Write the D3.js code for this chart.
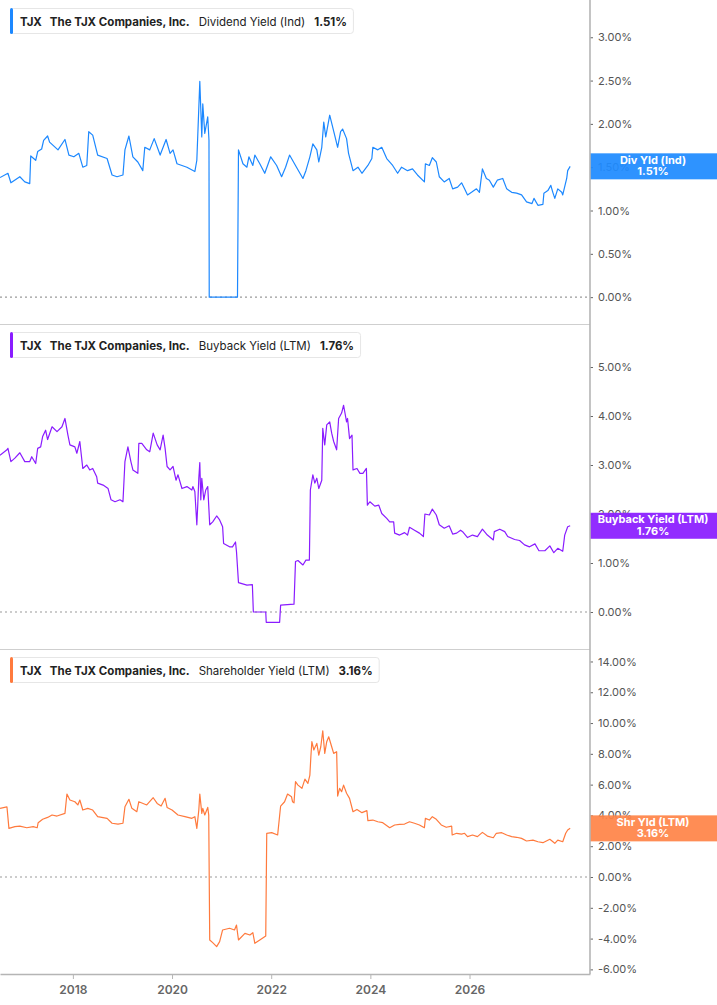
<!DOCTYPE html>
<html><head><meta charset="utf-8">
<script src="https://cdn.jsdelivr.net/npm/d3@7"></script>
<style>
body{margin:0;background:#fff;}
svg{display:block;font-family:Inter,"Noto Sans",sans-serif;}
</style>
</head><body>
<svg id="chart" width="717" height="1005"></svg>
<script>
const ticker = "TJX";
const company = "The TJX Companies, Inc.";
const xTickYears = [2018, 2020, 2022, 2024, 2026];
const xDomain = [2016.53, 2028.43];

const divTicks = [0, 0.5, 1, 1.5, 2, 2.5, 3];
const buyTicks = [0, 1, 2, 3, 4, 5];
const shrTicks = [-6, -4, -2, 0, 2, 4, 6, 8, 10, 12, 14];

// [decimal year, %]
const divYield = [
[2016.53,1.38],[2016.69,1.43],[2016.75,1.32],[2016.93,1.39],[2017.03,1.33],[2017.13,1.31],[2017.15,1.63],
[2017.25,1.58],[2017.29,1.68],[2017.37,1.71],[2017.41,1.81],[2017.49,1.86],[2017.53,1.79],[2017.70,1.70],
[2017.84,1.82],[2017.92,1.64],[2018.02,1.62],[2018.12,1.66],[2018.20,1.50],[2018.28,1.52],[2018.32,1.91],
[2018.40,1.87],[2018.50,1.64],[2018.69,1.60],[2018.79,1.41],[2018.89,1.39],[2019.01,1.41],[2019.05,1.70],
[2019.13,1.86],[2019.21,1.62],[2019.31,1.56],[2019.41,1.46],[2019.45,1.73],[2019.55,1.70],[2019.64,1.83],
[2019.76,1.64],[2019.88,1.82],[2019.96,1.66],[2020.02,1.70],[2020.10,1.54],[2020.30,1.50],[2020.46,1.45],
[2020.50,1.58],[2020.56,2.49],[2020.60,1.85],[2020.62,2.23],[2020.66,1.89],[2020.72,2.08],[2020.745,1.81],
[2020.75,0],[2021.32,0],[2021.34,1.70],[2021.43,1.54],[2021.51,1.50],[2021.55,1.62],[2021.63,1.52],
[2021.67,1.64],[2021.77,1.54],[2021.87,1.43],[2021.99,1.62],[2022.11,1.52],[2022.21,1.39],[2022.29,1.50],
[2022.37,1.64],[2022.51,1.50],[2022.64,1.37],[2022.70,1.46],[2022.78,1.62],[2022.84,1.77],[2022.92,1.70],
[2022.96,1.56],[2023.02,1.73],[2023.06,2.02],[2023.10,1.85],[2023.18,2.10],[2023.28,1.87],[2023.34,1.73],
[2023.40,1.91],[2023.44,1.94],[2023.52,1.83],[2023.56,1.66],[2023.65,1.46],[2023.75,1.50],[2023.83,1.43],
[2023.95,1.52],[2024.03,1.60],[2024.05,1.73],[2024.15,1.70],[2024.23,1.73],[2024.33,1.60],[2024.45,1.52],
[2024.55,1.43],[2024.63,1.50],[2024.75,1.46],[2024.85,1.48],[2024.95,1.41],[2025.09,1.33],[2025.11,1.54],
[2025.19,1.52],[2025.25,1.61],[2025.33,1.56],[2025.39,1.39],[2025.49,1.33],[2025.59,1.37],[2025.66,1.25],
[2025.76,1.27],[2025.84,1.32],[2025.90,1.25],[2025.96,1.18],[2026.04,1.21],[2026.14,1.25],[2026.20,1.21],
[2026.26,1.48],[2026.34,1.37],[2026.40,1.35],[2026.48,1.27],[2026.56,1.35],[2026.67,1.37],[2026.75,1.25],
[2026.85,1.21],[2026.95,1.20],[2027.05,1.18],[2027.15,1.10],[2027.26,1.08],[2027.30,1.14],[2027.38,1.06],
[2027.48,1.07],[2027.50,1.20],[2027.58,1.23],[2027.64,1.29],[2027.68,1.21],[2027.72,1.14],[2027.78,1.25],
[2027.86,1.21],[2027.88,1.18],[2027.96,1.37],[2027.98,1.46],[2028.03,1.51]
];

const buybackYield = [
[2016.53,3.20],[2016.67,3.31],[2016.69,3.34],[2016.75,3.07],[2016.83,3.14],[2016.93,3.25],[2017.03,3.07],
[2017.13,3.07],[2017.17,3.17],[2017.25,3.03],[2017.29,3.34],[2017.35,3.37],[2017.39,3.58],[2017.45,3.71],
[2017.49,3.52],[2017.58,3.78],[2017.68,3.68],[2017.78,3.78],[2017.84,3.95],[2017.90,3.61],[2017.94,3.41],
[2018.04,3.37],[2018.08,3.24],[2018.14,3.48],[2018.20,2.93],[2018.28,3.00],[2018.34,2.90],[2018.40,2.93],
[2018.48,2.76],[2018.50,2.63],[2018.61,2.59],[2018.71,2.52],[2018.77,2.29],[2018.85,2.25],[2018.95,2.29],
[2019.01,2.25],[2019.05,3.07],[2019.11,3.37],[2019.17,3.07],[2019.21,2.90],[2019.31,2.83],[2019.33,3.44],
[2019.39,3.44],[2019.49,3.31],[2019.55,3.27],[2019.62,3.65],[2019.70,3.41],[2019.76,3.31],[2019.82,3.61],
[2019.86,3.34],[2019.90,2.97],[2019.96,2.90],[2020.02,2.97],[2020.08,2.69],[2020.12,2.80],[2020.20,2.52],
[2020.30,2.56],[2020.40,2.49],[2020.42,2.56],[2020.46,2.46],[2020.50,1.78],[2020.52,2.22],[2020.54,2.73],
[2020.56,3.05],[2020.58,2.29],[2020.60,2.73],[2020.64,2.29],[2020.68,2.49],[2020.72,2.56],[2020.76,1.78],
[2020.82,1.84],[2020.90,1.96],[2020.96,1.88],[2021.02,1.74],[2021.04,1.40],[2021.16,1.33],[2021.22,1.33],
[2021.28,1.43],[2021.30,1.23],[2021.34,0.60],[2021.51,0.55],[2021.62,0.56],[2021.64,0.00],[2021.89,0.00],
[2021.90,-0.21],[2022.17,-0.21],[2022.19,0.14],[2022.46,0.16],[2022.49,1.03],[2022.54,1.05],[2022.64,0.96],
[2022.70,1.06],[2022.77,1.06],[2022.79,2.49],[2022.84,2.80],[2022.88,2.63],[2022.92,2.73],[2022.96,2.52],
[2023.02,2.69],[2023.04,3.75],[2023.08,3.41],[2023.12,3.82],[2023.18,3.88],[2023.22,3.65],[2023.26,3.48],
[2023.32,3.31],[2023.36,3.95],[2023.42,4.06],[2023.46,4.22],[2023.52,3.88],[2023.54,3.95],[2023.58,3.54],
[2023.63,3.61],[2023.65,2.90],[2023.73,2.93],[2023.79,2.83],[2023.85,2.83],[2023.92,2.93],[2023.94,2.18],
[2023.99,2.25],[2024.09,2.16],[2024.17,2.18],[2024.23,2.01],[2024.33,1.91],[2024.39,1.84],[2024.47,1.84],
[2024.49,1.61],[2024.59,1.57],[2024.69,1.62],[2024.75,1.57],[2024.79,1.73],[2024.89,1.67],[2024.99,1.61],
[2025.07,1.54],[2025.10,2.00],[2025.19,1.98],[2025.25,2.10],[2025.33,1.98],[2025.39,1.78],[2025.49,1.71],
[2025.59,1.76],[2025.66,1.59],[2025.74,1.61],[2025.82,1.67],[2025.86,1.64],[2025.96,1.52],[2026.06,1.57],
[2026.16,1.54],[2026.26,1.69],[2026.36,1.57],[2026.48,1.47],[2026.50,1.64],[2026.61,1.69],[2026.71,1.64],
[2026.77,1.54],[2026.91,1.48],[2027.01,1.46],[2027.11,1.37],[2027.21,1.33],[2027.32,1.39],[2027.40,1.25],
[2027.52,1.25],[2027.62,1.35],[2027.70,1.21],[2027.78,1.30],[2027.88,1.24],[2027.92,1.57],[2027.98,1.74],
[2028.03,1.76]
];

const shareholderYield = [
[2016.53,4.46],[2016.67,4.56],[2016.71,3.16],[2016.83,3.27],[2016.93,3.31],[2017.07,3.20],[2017.20,3.27],
[2017.28,3.20],[2017.30,3.53],[2017.39,3.75],[2017.49,3.87],[2017.58,4.03],[2017.68,3.96],[2017.84,4.13],
[2017.88,5.39],[2017.94,5.00],[2018.04,4.89],[2018.10,4.68],[2018.14,5.00],[2018.20,4.35],[2018.30,4.46],
[2018.40,4.35],[2018.50,3.92],[2018.69,3.81],[2018.79,3.49],[2018.91,3.44],[2019.01,3.49],[2019.05,4.56],
[2019.13,5.05],[2019.19,4.46],[2019.29,4.24],[2019.33,4.89],[2019.49,4.68],[2019.62,5.15],[2019.70,4.78],
[2019.78,4.61],[2019.86,5.11],[2019.90,4.52],[2020.00,4.35],[2020.12,4.03],[2020.26,3.92],[2020.40,3.81],
[2020.46,3.92],[2020.50,3.16],[2020.54,4.35],[2020.56,5.39],[2020.60,4.13],[2020.62,4.46],[2020.66,4.03],
[2020.72,4.52],[2020.74,4.03],[2020.76,-4.09],[2020.82,-4.26],[2020.90,-4.52],[2020.96,-4.20],[2021.02,-3.44],
[2021.16,-3.33],[2021.26,-3.44],[2021.30,-3.12],[2021.34,-4.09],[2021.47,-3.66],[2021.57,-3.77],[2021.63,-3.62],
[2021.67,-4.31],[2021.77,-4.09],[2021.89,-3.83],[2021.91,2.84],[2022.01,2.88],[2022.13,2.73],[2022.19,4.61],
[2022.27,4.89],[2022.33,5.39],[2022.41,5.21],[2022.43,4.89],[2022.46,4.82],[2022.49,6.19],[2022.54,5.97],
[2022.62,5.76],[2022.68,6.36],[2022.74,6.08],[2022.78,6.62],[2022.80,7.81],[2022.82,8.79],[2022.86,8.25],
[2022.92,8.68],[2022.96,7.92],[2023.00,8.46],[2023.04,9.50],[2023.08,8.03],[2023.12,8.79],[2023.16,9.11],
[2023.22,8.46],[2023.26,8.03],[2023.32,8.14],[2023.34,5.26],[2023.38,5.76],[2023.42,5.54],[2023.46,5.97],
[2023.52,5.44],[2023.58,5.11],[2023.65,4.24],[2023.73,4.39],[2023.83,4.18],[2023.93,4.31],[2023.95,3.66],
[2024.05,3.70],[2024.15,3.59],[2024.25,3.53],[2024.39,3.20],[2024.49,3.38],[2024.59,3.42],[2024.69,3.44],
[2024.79,3.59],[2024.89,3.49],[2024.99,3.38],[2025.09,3.20],[2025.11,3.81],[2025.19,3.70],[2025.25,3.92],
[2025.33,3.75],[2025.43,3.38],[2025.53,3.23],[2025.64,3.31],[2025.65,2.73],[2025.74,2.84],[2025.84,2.79],
[2025.90,2.84],[2025.96,2.62],[2026.06,2.73],[2026.16,2.62],[2026.26,2.90],[2026.36,2.66],[2026.48,2.55],
[2026.54,2.84],[2026.65,2.88],[2026.75,2.73],[2026.85,2.62],[2026.95,2.58],[2027.05,2.51],[2027.15,2.34],
[2027.28,2.40],[2027.38,2.29],[2027.48,2.23],[2027.62,2.45],[2027.72,2.19],[2027.78,2.40],[2027.88,2.29],
[2027.94,2.84],[2027.98,3.05],[2028.03,3.16]
];

const seriesNames = ["Dividend Yield (Ind)", "Buyback Yield (LTM)", "Shareholder Yield (LTM)"];
const badgeNames = ["Div Yld (Ind)", "Buyback Yield (LTM)", "Shr Yld (LTM)"];
const lastValues = [1.51, 1.76, 3.16];
const lineColors = ["#1c88ff", "#8a1cff", "#ff7a3d"];
const badgeColors = ["#1e8bff", "#8a1cff", "#ff8448"];

// layout
const W = 717, plotRight = 590;
const panelTops = [0, 324, 649];
const panelBottoms = [324, 649, 974];
const yDomains = [[-0.31, 3.43], [-0.755, 5.878], [-6.30, 14.81]];
const tickSets = [divTicks, buyTicks, shrTicks];
const dataSets = [divYield, buybackYield, shareholderYield];

const svg = d3.select("#chart");
const x = d3.scaleLinear().domain(xDomain).range([0, plotRight]);

const defs = svg.append("defs");

panelTops.forEach((top, i) => {
  const bottom = panelBottoms[i];
  const y = d3.scaleLinear().domain(yDomains[i]).range([bottom, top]);
  const g = svg.append("g");

  defs.append("clipPath").attr("id", "clip" + i)
    .append("rect").attr("x", 0).attr("y", top).attr("width", plotRight).attr("height", bottom - top);

  // zero line
  g.append("line")
    .attr("x1", 0).attr("x2", plotRight)
    .attr("y1", y(0)).attr("y2", y(0))
    .attr("stroke", "#9a9a9a").attr("stroke-width", 1.2)
    .attr("stroke-dasharray", "2,3");

  // series line
  const line = d3.line().x(d => x(d[0])).y(d => y(d[1]));
  g.append("path")
    .datum(dataSets[i])
    .attr("clip-path", `url(#clip${i})`)
    .attr("fill", "none")
    .attr("stroke", lineColors[i])
    .attr("stroke-width", 1.2)
    .attr("stroke-linejoin", "round")
    .attr("d", line);

  // y axis
  const ax = d3.axisRight(y).tickValues(tickSets[i]).tickSize(3).tickPadding(5)
    .tickFormat(d => d.toFixed(2) + "%");
  const axG = g.append("g").attr("transform", `translate(${plotRight},0)`).call(ax);
  axG.select(".domain").remove();
  axG.selectAll(".tick line").attr("stroke", "#666");
  axG.selectAll(".tick text").attr("fill", "#555").style("font-size", "11px")
    .style("font-family", "Inter, 'Noto Sans', sans-serif");

  // panel separator
  if (i > 0) {
    svg.append("line").attr("x1", 0).attr("x2", plotRight)
      .attr("y1", top + 0.5).attr("y2", top + 0.5)
      .attr("stroke", "#cfcfcf").attr("stroke-width", 1);
  }

  // badge (semi-opaque, the tick label underneath shows through as in the reference)
  const by = y(lastValues[i]);
  const bg = svg.append("g");
  bg.append("rect").attr("x", plotRight).attr("y", by - 13).attr("width", W - plotRight).attr("height", 26)
    .attr("fill", badgeColors[i]).attr("fill-opacity", 0.93);
  bg.append("text").attr("x", 653).attr("y", by - 2.5).attr("text-anchor", "middle")
    .attr("fill", "#fff").style("font-size", "11px").style("font-weight", 700).text(badgeNames[i]);
  bg.append("text").attr("x", 653).attr("y", by + 9).attr("text-anchor", "middle")
    .attr("fill", "#fff").style("font-size", "11px").style("font-weight", 700).text(lastValues[i].toFixed(2) + "%");

  // legend
  const lg = svg.append("g").attr("transform", `translate(10,${top + 8})`);
  const box = lg.append("rect").attr("x", 0.5).attr("y", 0.5).attr("height", 25).attr("rx", 3)
    .attr("fill", "#fff").attr("stroke", "#e6e6e6");
  lg.append("rect").attr("x", 0).attr("y", 0).attr("width", 3).attr("height", 26).attr("rx", 1.5)
    .attr("fill", lineColors[i]);
  const parts = [
    {t: ticker, w: 700, gap: 8},
    {t: company, w: 700, gap: 9},
    {t: seriesNames[i], w: 400, gap: 9},
    {t: lastValues[i].toFixed(2) + "%", w: 700, gap: 0}
  ];
  let cx = 10;
  parts.forEach(p => {
    const t = lg.append("text").attr("x", cx).attr("y", 17.5)
      .attr("fill", "#222").style("font-size", "11.5px").style("font-weight", p.w).text(p.t);
    cx += t.node().getComputedTextLength() + p.gap;
  });
  box.attr("width", cx + 6);
});

// right vertical axis line
svg.append("line").attr("x1", plotRight).attr("x2", plotRight).attr("y1", 0).attr("y2", panelBottoms[2])
  .attr("stroke", "#b5b5b5").attr("stroke-width", 1.6);

// x axis
const xAx = d3.axisBottom(x).tickValues(xTickYears).tickFormat(d => String(d))
  .tickSize(5).tickSizeOuter(0).tickPadding(6);
const xg = svg.append("g").attr("transform", `translate(0,${panelBottoms[2]})`).call(xAx);
xg.select(".domain").attr("stroke", "#b5b5b5").attr("stroke-width", 1.6);
xg.selectAll(".tick line").attr("stroke", "#b5b5b5");
xg.selectAll(".tick text").attr("fill", "#666").style("font-size", "12px").style("font-weight", 600)
  .style("font-family", "Inter, 'Noto Sans', sans-serif");
</script>
</body></html>
